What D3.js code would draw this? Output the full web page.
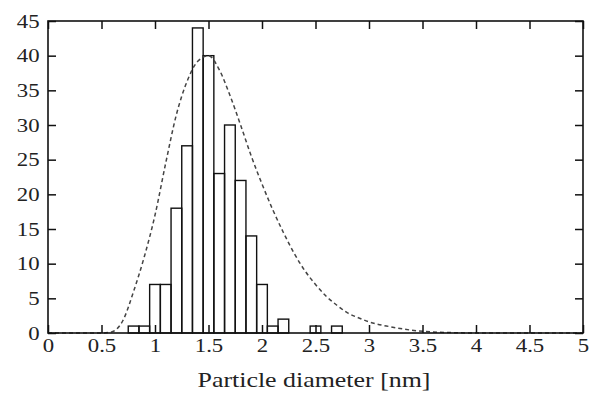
<!DOCTYPE html>
<html>
<head>
<meta charset="utf-8">
<script src="https://cdn.jsdelivr.net/npm/d3@7"></script>
<style>
  body { margin: 0; background: #fff; }
  .axis text { font-family: "Liberation Serif", "Times New Roman", serif; font-size: 19px; fill: #222; }
  .axis path { display: none; }
  .axis line { stroke: #111; stroke-width: 1.5; }
  .title { font-family: "Liberation Serif", "Times New Roman", serif; font-size: 21px; fill: #222; text-anchor: middle; }
</style>
</head>
<body>
<div id="vis"></div>
<script>
// histogram bins (centres, nm) and counts
var binCenters = [0.8, 0.9, 1.0, 1.1, 1.2, 1.3, 1.4, 1.5, 1.6, 1.7, 1.8, 1.9, 2.0, 2.1, 2.2, 2.3, 2.4, 2.5, 2.6, 2.7];
var counts = [1, 1, 7, 7, 18, 27, 44, 40, 23, 30, 22, 14, 7, 1, 2, 0, 0, 1, 0, 1];
var binWidth = 0.1;

// fitted distribution (dashed curve)
var fitX = [0.0, 0.5, 0.6, 0.7, 0.8, 0.9, 1.0, 1.1, 1.2, 1.3, 1.4, 1.5, 1.6, 1.7, 1.8, 1.9, 2.0, 2.1, 2.2, 2.3, 2.4, 2.5, 2.6, 2.7, 2.8, 2.9, 3.0, 3.2, 3.4, 3.6, 3.8, 4.0, 4.5, 5.0];
var fitY = [0, 0, 0.2, 1.8, 6, 11, 17, 24.5, 31.5, 36.3, 39.2, 40, 38, 34.3, 30, 25.5, 21.5, 17.8, 14.5, 11.5, 9, 7, 5.3, 4, 2.9, 2.2, 1.6, 0.9, 0.4, 0.15, 0.05, 0, 0, 0];

var xTicks = [0, 0.5, 1, 1.5, 2, 2.5, 3, 3.5, 4, 4.5, 5];
var yTicks = [0, 5, 10, 15, 20, 25, 30, 35, 40, 45];

var margin = { left: 48, top: 21, right: 6, bottom: 60 };
var width = 589;
var height = 393;
var drawWidth = width - margin.left - margin.right;
var drawHeight = height - margin.top - margin.bottom;

var svg = d3.select('#vis')
    .append('svg')
    .attr('width', width)
    .attr('height', height);

var g = svg.append('g')
    .attr('transform', 'translate(' + margin.left + ',' + margin.top + ')');

var xScale = d3.scaleLinear().domain([0, 5]).range([0, drawWidth]);
var yScale = d3.scaleLinear().domain([0, 45]).range([drawHeight, 0]);

var tickLen = 8;
var stretch = 1.2; // the scanned labels look wider than plain Times

// fitted curve
var line = d3.line()
    .x(function(d, i) { return xScale(fitX[i]); })
    .y(function(d) { return yScale(d); })
    .curve(d3.curveMonotoneX);

// bars
var bars = binCenters.map(function(c, i) {
    return { x0: c - binWidth / 2, x1: c + binWidth / 2, n: counts[i] };
}).filter(function(d) { return d.n > 0; });

g.selectAll('rect.bar')
    .data(bars)
    .enter().append('rect')
    .attr('class', 'bar')
    .attr('x', function(d) { return xScale(d.x0); })
    .attr('width', function(d) { return xScale(d.x1) - xScale(d.x0); })
    .attr('y', function(d) { return yScale(d.n); })
    .attr('height', function(d) { return drawHeight - yScale(d.n); })
    .attr('fill', 'none')
    .attr('stroke', '#111')
    .attr('stroke-width', 1.4);

g.append('path')
    .datum(fitY)
    .attr('fill', 'none')
    .attr('stroke', '#444')
    .attr('stroke-width', 1.5)
    .attr('stroke-dasharray', '4,3')
    .attr('d', line);

// axes: ticks point inward on all four sides
var xAxisG = g.append('g')
    .attr('class', 'axis')
    .attr('transform', 'translate(0,' + drawHeight + ')')
    .call(d3.axisBottom(xScale).tickValues(xTicks).tickSizeInner(-tickLen).tickSizeOuter(0).tickPadding(6)
        .tickFormat(function(d) { return d; }));
xAxisG.selectAll('text').attr('transform', 'scale(' + stretch + ',1)');

var yAxisG = g.append('g')
    .attr('class', 'axis')
    .call(d3.axisLeft(yScale).tickValues(yTicks).tickSizeInner(-tickLen).tickSizeOuter(0).tickPadding(7));
yAxisG.selectAll('text').attr('transform', 'scale(' + stretch + ',1)');

g.append('g')
    .attr('class', 'axis')
    .call(d3.axisTop(xScale).tickValues(xTicks).tickSizeInner(-tickLen).tickSizeOuter(0).tickFormat(''));

g.append('g')
    .attr('class', 'axis')
    .attr('transform', 'translate(' + drawWidth + ',0)')
    .call(d3.axisRight(yScale).tickValues(yTicks).tickSizeInner(-tickLen).tickSizeOuter(0).tickFormat(''));

// frame
g.append('rect')
    .attr('x', 0)
    .attr('y', 0)
    .attr('width', drawWidth)
    .attr('height', drawHeight)
    .attr('fill', 'none')
    .attr('stroke', '#111')
    .attr('stroke-width', 1.6);

svg.append('text')
    .attr('class', 'title')
    .attr('x', 314)
    .attr('y', margin.top + drawHeight + 54)
    .attr('textLength', 233)
    .attr('lengthAdjust', 'spacingAndGlyphs')
    .text('Particle diameter [nm]');
</script>
</body>
</html>
